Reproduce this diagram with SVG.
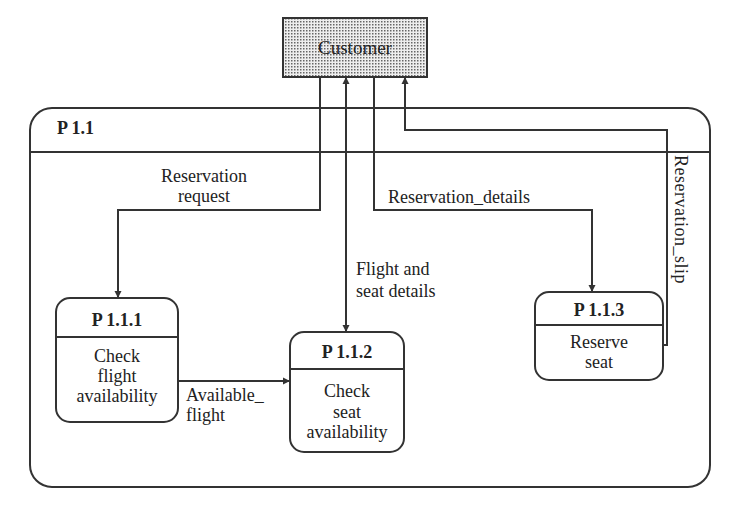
<svg xmlns="http://www.w3.org/2000/svg" width="730" height="506" viewBox="0 0 730 506">
<style>
text{font-family:"Liberation Serif","DejaVu Serif","Times New Roman",serif;font-size:18px;fill:#222}
.b{font-weight:bold}
.box{fill:#fff;stroke:#333;stroke-width:2}
.ln{fill:none;stroke:#333;stroke-width:2}
</style>
<defs>
<pattern id="dots" width="3" height="3" patternUnits="userSpaceOnUse"><rect width="3" height="3" fill="#eee"/><rect width="1.5" height="1.5" fill="#666"/></pattern>
<marker id="ar" viewBox="0 0 10 10" refX="10" refY="5" markerWidth="7" markerHeight="9" orient="auto-start-reverse" markerUnits="userSpaceOnUse"><path d="M0,0L10,5L0,10z" fill="#333"/></marker>
</defs>
<rect width="730" height="506" fill="#fff"/>
<g id="p11">
<rect class="box" x="30" y="108" width="680" height="379" rx="22"/>
<line class="ln" x1="30" y1="152" x2="710" y2="152"/>
<text class="b" x="57" y="134">P 1.1</text>
</g>
<g id="customer">
<rect x="283" y="18" width="144" height="59" fill="url(#dots)" stroke="#333" stroke-width="2"/>
<text x="355" y="54" text-anchor="middle" style="font-size:19px">Customer</text>
</g>
<g id="connectors">
<path class="ln" d="M320,77V210H118V298" marker-end="url(#ar)"/>
<path class="ln" d="M346,77V332" marker-start="url(#ar)" marker-end="url(#ar)"/>
<path class="ln" d="M374,77V210H592V292" marker-end="url(#ar)"/>
<path class="ln" d="M663,345H667V130H405V77" marker-end="url(#ar)"/>
<path class="ln" d="M178,381H290" marker-end="url(#ar)"/>
<text x="204" y="182" text-anchor="middle">Reservation</text>
<text x="204" y="202" text-anchor="middle">request</text>
<text x="388" y="203">Reservation_details</text>
<text x="356" y="275">Flight and</text>
<text x="356" y="297">seat details</text>
<text x="186" y="401">Available_</text>
<text x="186" y="421">flight</text>
<text transform="translate(675,155) rotate(90)" style="letter-spacing:0.5px">Reservation_slip</text>
</g>
<g id="p111">
<rect class="box" x="56" y="298" width="122" height="124" rx="14"/>
<line class="ln" x1="56" y1="337" x2="178" y2="337"/>
<text class="b" x="117" y="326" text-anchor="middle">P 1.1.1</text>
<text x="117" y="362" text-anchor="middle">Check</text>
<text x="117" y="382" text-anchor="middle">flight</text>
<text x="117" y="402" text-anchor="middle">availability</text>
</g>
<g id="p112">
<rect class="box" x="290" y="332" width="114" height="120" rx="14"/>
<line class="ln" x1="290" y1="369" x2="404" y2="369"/>
<text class="b" x="347" y="358" text-anchor="middle">P 1.1.2</text>
<text x="347" y="397" text-anchor="middle">Check</text>
<text x="347" y="418" text-anchor="middle">seat</text>
<text x="347" y="438" text-anchor="middle">availability</text>
</g>
<g id="p113">
<rect class="box" x="535" y="292" width="128" height="88" rx="14"/>
<line class="ln" x1="535" y1="325" x2="663" y2="325"/>
<text class="b" x="599" y="316" text-anchor="middle">P 1.1.3</text>
<text x="599" y="348" text-anchor="middle">Reserve</text>
<text x="599" y="368" text-anchor="middle">seat</text>
</g>
</svg>
